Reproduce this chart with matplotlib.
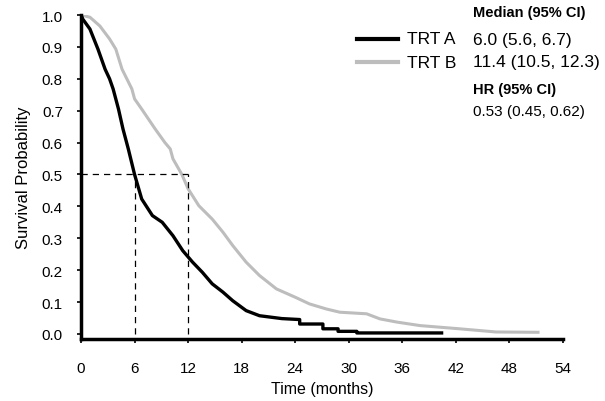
import matplotlib

matplotlib.use("Agg")
import matplotlib.pyplot as plt

plt.rcParams["font.family"] = ["Liberation Sans", "DejaVu Sans"]

# Kaplan-Meier curves (months, survival probability)
trt_a_time = [0, 0.2, 1.0, 1.9, 2.7, 3.2, 3.6, 4.2, 4.7, 5.3, 6.0, 6.8, 8.0,
              9.1, 10.3, 11.4, 12.5, 13.6, 14.7, 15.9, 17.0, 18.5, 20.0, 22.5,
              24.5, 24.5, 27.1, 27.1, 28.8, 28.8, 30.9, 30.9, 40.4]
trt_a_surv = [1.0, 0.987, 0.956, 0.893, 0.83, 0.80, 0.768, 0.705, 0.643,
              0.58, 0.50, 0.423, 0.371, 0.35, 0.308, 0.261, 0.225, 0.193,
              0.157, 0.131, 0.104, 0.073, 0.057, 0.048, 0.045, 0.031, 0.031,
              0.016, 0.016, 0.008, 0.008, 0.003, 0.003]

trt_b_time = [0, 1.0, 2.1, 3.2, 3.9, 4.6, 5.7, 6.0, 6.8, 8.3, 9.4, 10.0,
              10.3, 11.3, 12.0, 13.2, 14.7, 15.9, 17.0, 18.5, 20.0, 21.9,
              24.0, 25.6, 27.5, 29.0, 32.0, 33.5, 35.4, 38.0, 42.4, 46.5, 51.2]
trt_b_surv = [1.0, 0.993, 0.966, 0.925, 0.893, 0.83, 0.768, 0.737, 0.705,
              0.643, 0.60, 0.58, 0.549, 0.50, 0.455, 0.402, 0.36, 0.319,
              0.277, 0.225, 0.183, 0.141, 0.115, 0.094, 0.078, 0.068, 0.063,
              0.047, 0.037, 0.026, 0.016, 0.006, 0.005]

median_marks = [6.0, 12.0]
x_ticks = list(range(0, 55, 6))
y_ticks = [i / 10 for i in range(11)]

labels = ["TRT A", "TRT B"]
median_text = ["6.0 (5.6, 6.7)", "11.4 (10.5, 12.3)"]
hr_text = "0.53 (0.45, 0.62)"

BLACK = "#000000"
GREY = "#bdbdbd"

fig = plt.figure(figsize=(6.05, 4.02), dpi=100)
ax = fig.add_axes([81 / 605, 1 - 340 / 402, (563 - 81) / 605, (340 - 16) / 402])

ax.plot(trt_b_time, trt_b_surv, color=GREY, lw=2.2)
ax.plot(trt_a_time, trt_a_surv, color=BLACK, lw=2.4)

# median reference lines
ax.plot([0, max(median_marks)], [0.5, 0.5], color=BLACK, lw=0.9, ls=(0, (5, 4)))
for m in median_marks:
    ax.plot([m, m], [0, 0.5], color=BLACK, lw=0.9, ls=(0, (5, 4)))

ax.set_xlim(0, 54)
ax.set_ylim(-0.016, 1.0)
ax.set_xticks(x_ticks)
ax.set_yticks(y_ticks)
ax.set_yticklabels([f"{v:.1f}" for v in y_ticks])
ax.tick_params(axis="both", labelsize=11, width=1.2, length=3, color=BLACK)
ax.tick_params(axis="x", pad=13)
ax.tick_params(axis="y", pad=10)
for s in ["top", "right"]:
    ax.spines[s].set_visible(False)
for s in ["left", "bottom"]:
    ax.spines[s].set_linewidth(2.5)
ax.set_xlabel("Time (months)", fontsize=11.5, labelpad=4)
ax.set_ylabel("Survival Probability", fontsize=12, labelpad=8)

# legend block drawn in figure pixel coords
def fx(px):
    return px / 605


def fy(py):
    return 1 - py / 402


fig.text(fx(473), fy(13), "Median (95% CI)", fontsize=10.5, fontweight="bold",
         va="center")
for i, (lab, med, col) in enumerate(zip(labels, median_text, [BLACK, GREY])):
    yy = fy(40 + 23 * i)
    fig.add_artist(plt.Line2D([fx(357), fx(398)], [yy, yy], color=col, lw=3.0))
    fig.text(fx(407), yy, lab, fontsize=12.5, va="center")
    fig.text(fx(473), yy, med, fontsize=12.5, va="center")
fig.text(fx(473), fy(90), "HR (95% CI)", fontsize=10.5, fontweight="bold",
         va="center")
fig.text(fx(473), fy(112), hr_text, fontsize=11, va="center")

fig.savefig("out.png", dpi=100)
